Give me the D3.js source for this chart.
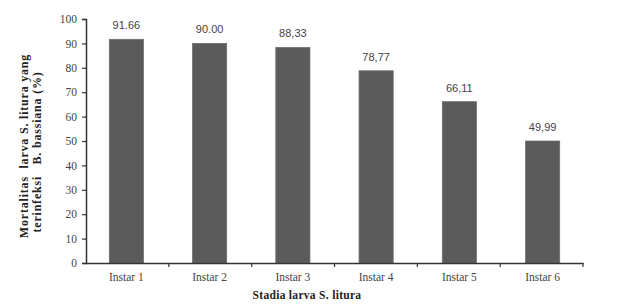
<!DOCTYPE html>
<html>
<head>
<meta charset="utf-8">
<script src="https://cdn.jsdelivr.net/npm/d3@7"></script>
<style>
  body { margin: 0; background: #fff; }
  svg { display: block; }
</style>
</head>
<body>
<div id="chart"></div>
<script>
// chart values
const categories = ["Instar 1", "Instar 2", "Instar 3", "Instar 4", "Instar 5", "Instar 6"];
const mortality = [91.66, 90.00, 88.33, 78.77, 66.11, 49.99];
const valueLabels = ["91.66", "90.00", "88,33", "78,77", "66,11", "49,99"];
const yTicks = [0, 10, 20, 30, 40, 50, 60, 70, 80, 90, 100];

const width = 624, height = 307;
const margin = {top: 19, right: 41, bottom: 44, left: 86};

let svg = d3.select("#chart")
    .append("svg")
    .attr("width", width)
    .attr("height", height);

let g = svg.append("g")
    .attr("transform", `translate(${margin.left}, ${margin.top})`);

const innerW = width - margin.left - margin.right;
const innerH = height - margin.top - margin.bottom;

let x = d3.scaleBand()
    .domain(categories)
    .range([0, innerW])
    .paddingInner(0.59)
    .paddingOuter(0.28);

// band edges for the category ticks
let xEdge = d3.scaleLinear()
    .domain([0, categories.length])
    .range([0, innerW]);

let y = d3.scaleLinear()
    .domain([0, 100])
    .range([innerH, 0]);

const serif = "'Liberation Serif', 'Times New Roman', serif";
const textColor = "#444";

// bars
g.selectAll("rect.bar")
    .data(mortality)
    .enter()
    .append("rect")
    .attr("class", "bar")
    .attr("x", (d, i) => x(categories[i]))
    .attr("y", d => y(d))
    .attr("width", x.bandwidth())
    .attr("height", d => innerH - y(d))
    .attr("fill", "#5b5b5b")
    .attr("stroke", "#6e6e6e")
    .attr("stroke-width", 0.8);

// value labels
g.selectAll("text.val")
    .data(mortality)
    .enter()
    .append("text")
    .attr("class", "val")
    .attr("x", (d, i) => x(categories[i]) + x.bandwidth() / 2)
    .attr("y", d => y(d) - 10)
    .attr("text-anchor", "middle")
    .style("font-family", "'Liberation Sans', Arial, sans-serif")
    .style("font-size", "11px")
    .style("fill", textColor)
    .text((d, i) => valueLabels[i]);

// y axis
let yAxis = g.append("g")
    .call(d3.axisLeft(y).tickValues(yTicks).tickSize(4).tickPadding(5));
yAxis.select(".domain").attr("stroke", "#333").attr("stroke-width", 1.5);
yAxis.selectAll(".tick line").attr("stroke", "#333").attr("stroke-width", 1.2);
yAxis.selectAll(".tick text")
    .style("font-family", serif)
    .style("font-size", "11.5px")
    .style("fill", textColor);

// x axis
let xAxis = g.append("g")
    .attr("transform", `translate(0, ${innerH})`)
    .call(d3.axisBottom(x).tickSize(0).tickPadding(10));
xAxis.select(".domain").attr("stroke", "#333").attr("stroke-width", 1.5);
xAxis.selectAll(".tick text")
    .style("font-family", serif)
    .style("font-size", "11.5px")
    .style("fill", textColor);

g.append("g").selectAll("line")
    .data(d3.range(1, categories.length + 1))
    .enter()
    .append("line")
    .attr("x1", d => xEdge(d))
    .attr("x2", d => xEdge(d))
    .attr("y1", innerH)
    .attr("y2", innerH + 4)
    .attr("stroke", "#333")
    .attr("stroke-width", 1.2);

// axis titles
svg.append("text")
    .attr("x", 307)
    .attr("y", 299)
    .attr("text-anchor", "middle")
    .style("font-family", serif)
    .style("font-weight", "bold")
    .style("font-size", "11.5px")
    .style("letter-spacing", "0.3px")
    .style("fill", "#222")
    .text("Stadia larva S. litura");

let yTitle = svg.append("text")
    .attr("transform", `translate(28, 146) rotate(-90)`)
    .attr("text-anchor", "middle")
    .style("font-family", serif)
    .style("font-weight", "bold")
    .style("font-size", "12px")
    .style("letter-spacing", "0.8px")
    .style("fill", "#222");
yTitle.append("tspan").attr("x", 0).attr("dy", 0).attr("xml:space", "preserve")
    .text("Mortalitas  larva S. litura yang");
yTitle.append("tspan").attr("x", -6).attr("dy", 13).attr("xml:space", "preserve")
    .text("terinfeksi   B. bassiana (%)");
</script>
</body>
</html>
